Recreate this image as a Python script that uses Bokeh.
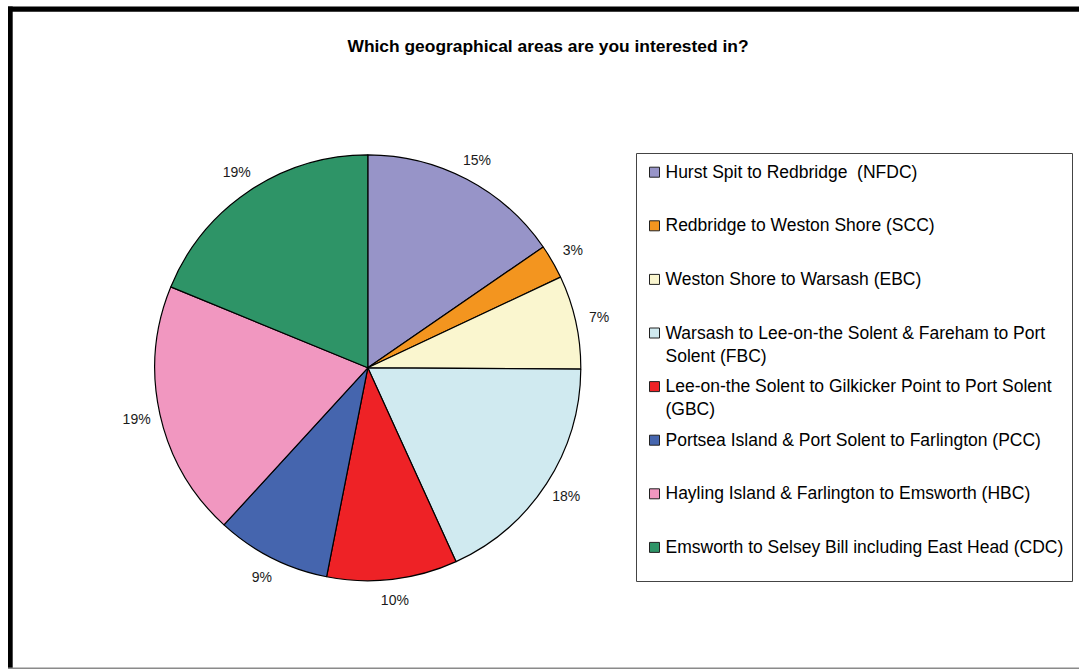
import math
from bokeh.plotting import figure
from bokeh.models import Range1d
from bokeh.core.properties import value
from bokeh.embed import file_html
from bokeh.resources import INLINE

# ---- data ----
title = "Which geographical areas are you interested in?"
areas = [
    "Hurst Spit to Redbridge  (NFDC)",
    "Redbridge to Weston Shore (SCC)",
    "Weston Shore to Warsash (EBC)",
    "Warsash to Lee-on-the Solent & Fareham to Port\nSolent (FBC)",
    "Lee-on-the Solent to Gilkicker Point to Port Solent\n(GBC)",
    "Portsea Island & Port Solent to Farlington (PCC)",
    "Hayling Island & Farlington to Emsworth (HBC)",
    "Emsworth to Selsey Bill including East Head (CDC)",
]
shares = [15.4, 2.6, 7.1, 18.1, 9.9, 8.7, 19.4, 18.8]
colors = ["#9794C8", "#F3951F", "#FAF6CF", "#D0EAF0",
          "#EE2226", "#4565AE", "#F197C0", "#2E9467"]

# ---- page geometry (data units == pixels, y up) ----
W, H = 1079, 669
FONT = "Liberation Sans"

p = figure(width=W, height=H, output_backend="svg", toolbar_location=None,
           x_range=Range1d(0, W), y_range=Range1d(0, H),
           x_axis_location=None, y_axis_location=None, min_border=0,
           outline_line_color=None, tools="")
p.grid.visible = False
p.background_fill_color = "white"
p.border_fill_color = "white"

def py(y_page):
    return H - y_page

# frame
p.quad(left=[7.5], right=[W], top=[py(6)], bottom=[py(11.2)],
       fill_color="black", line_color=None)
p.quad(left=[7.5], right=[12.2], top=[py(6)], bottom=[py(668)],
       fill_color="black", line_color=None)
p.segment(x0=[7.5], y0=[py(667.8)], x1=[W], y1=[py(667.8)],
          line_color="#8a8a8a", line_width=1.5)

# title
p.text(x=[547.5], y=[py(45)], text=[title], text_align="center",
       text_baseline="middle", text_font=value(FONT), text_font_style="bold",
       text_font_size="17.4px", text_color="black")

# pie
cx, cy, r = 367.3, py(367.3), 213
total = sum(shares)
cum = [0.0]
for s in shares:
    cum.append(cum[-1] + s / total)
starts = [math.pi / 2 - 2 * math.pi * cum[i + 1] for i in range(len(shares))]
ends = [math.pi / 2 - 2 * math.pi * cum[i] for i in range(len(shares))]
p.wedge(x=cx, y=cy, radius=r, start_angle=starts, end_angle=ends,
        fill_color=colors, line_color="black", line_width=1.2)

# percentage labels
lx, ly, lt = [], [], []
for i, s in enumerate(shares):
    mid = (cum[i] + cum[i + 1]) / 2 * 2 * math.pi
    dx, dy = math.sin(mid), math.cos(mid)
    rr = 233 + 4 * abs(dx)
    lx.append(cx + rr * dx)
    ly.append(cy + rr * dy)
    lt.append(f"{round(s)}%")
p.text(x=lx, y=ly, text=lt, text_align="center", text_baseline="middle",
       text_font=value(FONT), text_font_size="14px", text_color="#1a1a1a")

# legend (drawn manually)
p.quad(left=[636], right=[1072], top=[py(153)], bottom=[py(581)],
       fill_color="white", line_color="#444444", line_width=1)
row0, pitch = 171.7, 53.6
ys = [py(row0 + i * pitch) for i in range(len(areas))]
p.scatter(x=[654] * len(areas), y=ys, marker="square", size=10,
          fill_color=colors, line_color="#222222", line_width=1)
shown = [a.replace("  ", " \u00a0") for a in areas]
p.text(x=[665] * len(areas), y=[y + 10.5 for y in ys], text=shown,
       text_align="left", text_baseline="top", text_font=value(FONT),
       text_font_size="17.5px", text_line_height=1.15, text_color="black")

open("out.html", "w").write(file_html(p, INLINE))
